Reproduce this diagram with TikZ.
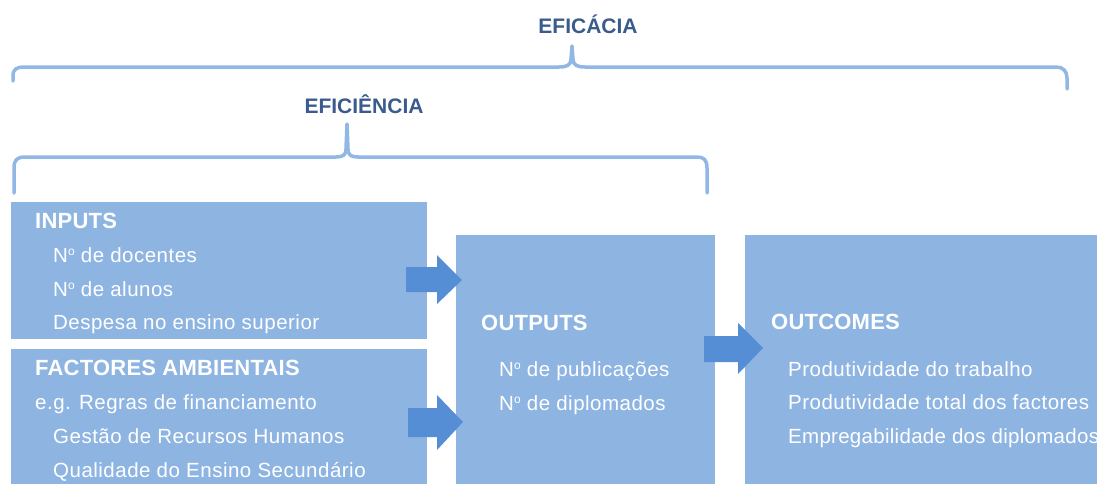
\documentclass[tikz,border=0pt]{standalone}
\usepackage{fontspec}
\setmainfont{Liberation Sans}
\newfontfamily\itemfont[LetterSpace=2.4]{Liberation Sans}
\newfontfamily\itemtightfont[LetterSpace=1.4]{Liberation Sans}
\newfontfamily\titlefont[LetterSpace=1]{Liberation Sans}
\definecolor{boxblue}{RGB}{142,180,226}
\definecolor{arrowblue}{RGB}{85,142,213}
\definecolor{headblue}{RGB}{59,91,140}
\definecolor{braceblue}{RGB}{145,183,228}
\tikzset{
  panel/.style={fill=boxblue, draw=none, inner sep=0pt, outer sep=0pt, anchor=north west},
  title/.style={anchor=base west, text=white, font=\titlefont\fontsize{22}{26}\selectfont\bfseries, inner sep=0pt},
  item/.style={anchor=base west, text=white, font=\itemfont\fontsize{20.5}{24}\selectfont, inner sep=0pt},
  tightitem/.style={item, font=\itemtightfont\fontsize{20.5}{24}\selectfont},
  headtext/.style={anchor=base, text=headblue, font=\fontsize{21}{25}\selectfont\bfseries, inner sep=0pt},
  brace/.style={draw=braceblue, line width=3.5pt, line cap=round, line join=round},
  blockarrow/.style={fill=arrowblue, draw=none},
}
\newcommand{\numo}{N\raisebox{0.62ex}{\fontsize{12}{14}\selectfont o}}
\begin{document}
\begin{tikzpicture}[x=1pt,y=-1pt]
\useasboundingbox (0,0) rectangle (1097,483);
\clip (0,0) rectangle (1097,483);

% panels
\node[panel, minimum width=416pt, minimum height=137pt] (inputs) at (11,202) {};
\node[panel, minimum width=416pt, minimum height=140pt] (factores) at (11,349) {};
\node[panel, minimum width=259pt, minimum height=255pt] (outputs) at (456,235) {};
\node[panel, minimum width=360pt, minimum height=255pt] (outcomes) at (745,235) {};

% block arrows
\fill[blockarrow] (406,267) -- (437,267) -- (437,255) -- (462,280) -- (437,304) -- (437,292) -- (406,292) -- cycle;
\fill[blockarrow] (408,408) -- (437,408) -- (437,395) -- (463,422) -- (437,450) -- (437,437) -- (408,437) -- cycle;
\fill[blockarrow] (704,336) -- (738,336) -- (738,323) -- (763,348) -- (738,374) -- (738,362) -- (704,362) -- cycle;

% texts: inputs
\node[title] (tin) at (35,228) {INPUTS};
\node[item] (tin1) at (53,262) {\numo\ de docentes};
\node[item] (tin2) at (53,296) {\numo\ de alunos};
\node[item] (tin3) at (53,329) {Despesa no ensino superior};

% texts: factores
\node[title] (tfa) at (35,375) {FACTORES AMBIENTAIS};
\node[item] (tfa1) at (35,409) {e.g. Regras de financiamento};
\node[item] (tfa2) at (53,443) {Gestão de Recursos Humanos};
\node[item] (tfa3) at (53,477) {Qualidade do Ensino Secundário};

% texts: outputs
\node[title] (tout) at (481,330) {OUTPUTS};
\node[item] (tout1) at (499,376) {\numo\ de publicações};
\node[item] (tout2) at (499,410) {\numo\ de diplomados};

% texts: outcomes
\node[title] (toc) at (771,329) {OUTCOMES};
\node[item] (toc1) at (788,376) {Produtividade do trabalho};
\node[item] (toc2) at (788,409) {Produtividade total dos factores};
\node[tightitem] (toc3) at (788,443) {Empregabilidade dos diplomados};

% headings
\node[headtext] (eficacia) at (588,33) {EFICÁCIA};
\node[headtext] (eficiencia) at (364,113) {EFICIÊNCIA};

% braces
\draw[brace] (13,81) -- (13,76) .. controls (13,69) and (17,67) .. (24,67)
  -- (559,67) .. controls (567,67) and (571,65) .. (571,59) -- (572,46)
  -- (573,59) .. controls (573,65) and (577,67) .. (585,67)
  -- (1056,67) .. controls (1063,67) and (1067,71) .. (1067,78) -- (1067,89);
\draw[brace] (14,193) -- (14,168) .. controls (14,160) and (17,157) .. (25,157)
  -- (336,157) .. controls (343,157) and (346,155) .. (346,149) -- (347,124)
  -- (348,149) .. controls (348,155) and (351,157) .. (358,157)
  -- (697,157) .. controls (704,157) and (707,160) .. (707,168) -- (707,193);
\end{tikzpicture}
\end{document}
